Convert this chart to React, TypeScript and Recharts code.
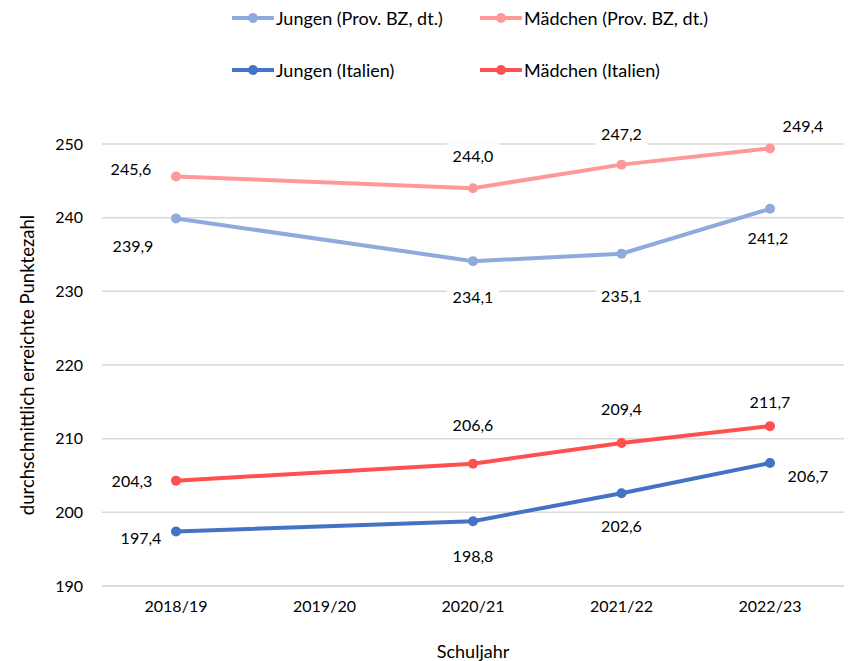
import React from 'react';
import { LineChart, Line, XAxis, YAxis, CartesianGrid, Label, LabelList } from 'recharts';

const years = ['2018/19', '2019/20', '2020/21', '2021/22', '2022/23'];
const jungenBZ = [239.9, null, 234.1, 235.1, 241.2];
const maedchenBZ = [245.6, null, 244.0, 247.2, 249.4];
const jungenIT = [197.4, null, 198.8, 202.6, 206.7];
const maedchenIT = [204.3, null, 206.6, 209.4, 211.7];
const yTicks = [190, 200, 210, 220, 230, 240, 250];

const seriesNames = ['Jungen (Prov. BZ, dt.)', 'Mädchen (Prov. BZ, dt.)', 'Jungen (Italien)', 'Mädchen (Italien)'];

const data = years.map((y, i) => ({
  year: y,
  jBZ: jungenBZ[i],
  mBZ: maedchenBZ[i],
  jIT: jungenIT[i],
  mIT: maedchenIT[i],
}));

const FONT = 'Lato, "Open Sans", sans-serif';
const C_JBZ = '#8FAADC';
const C_MBZ = '#FF9999';
const C_JIT = '#4472C4';
const C_MIT = '#FF5050';

// label offsets relative to each point (dx, dy)
const offJBZ = [[-43, 27], [0, 0], [0, 35], [0, 42], [-2, 29]];
const offMBZ = [[-45, -8], [0, 0], [0, -33], [0, -31], [33, -23]];
const offJIT = [[-35, 6], [0, 0], [0, 34], [0, 32], [38, 13]];
const offMIT = [[-44, 0], [0, 0], [0, -39], [0, -35], [0, -25]];

const fmt = (v: number) => v.toFixed(1).replace('.', ',');

const makeLabel = (offs: number[][]) => (props: any) => {
  const { x, y, value, index } = props;
  if (value == null || x == null || y == null) return null;
  const [dx, dy] = offs[index] || [0, 0];
  const cx = x + dx;
  const cy = y + dy;
  const w = 52;
  const h = 24;
  return (
    <g>
      <rect x={cx - w / 2} y={cy - h / 2} width={w} height={h} fill="#ffffff" />
      <text x={cx} y={cy} textAnchor="middle" dominantBaseline="central" fontFamily={FONT} fontSize={16} fill="#000">
        {fmt(Number(value))}
      </text>
    </g>
  );
};

const LegendIcon = ({ color }: { color: string }) => (
  <svg width={42} height={12} style={{ display: 'block' }}>
    <line x1={1} y1={6} x2={41} y2={6} stroke={color} strokeWidth={4} strokeLinecap="round" />
    <circle cx={21} cy={6} r={5} fill={color} />
  </svg>
);

const legendItems = [
  { name: seriesNames[0], color: C_JBZ, left: 232, top: 18 },
  { name: seriesNames[1], color: C_MBZ, left: 480, top: 18 },
  { name: seriesNames[2], color: C_JIT, left: 232, top: 70 },
  { name: seriesNames[3], color: C_MIT, left: 480, top: 70 },
];

const YTitle = (props: any) => {
  const vb = props.viewBox || {};
  const cx = 27;
  const cy = vb.y + vb.height / 2;
  return (
    <text x={cx} y={cy} transform={`rotate(-90 ${cx} ${cy})`} textAnchor="middle" dominantBaseline="central" fontFamily={FONT} fontSize={18.5} fill="#000">
      durchschnittlich erreichte Punktezahl
    </text>
  );
};

const XTitle = (props: any) => {
  const vb = props.viewBox || {};
  const cx = vb.x + vb.width / 2;
  const cy = 651;
  return (
    <text x={cx} y={cy} textAnchor="middle" dominantBaseline="central" fontFamily={FONT} fontSize={18} fill="#000">
      Schuljahr
    </text>
  );
};

export default function App() {
  return (
    <div style={{ position: 'absolute', left: 0, top: 0, width: 854, height: 661, background: '#fff' }}>
      <LineChart
        width={854}
        height={661}
        data={data}
        margin={{ top: 144, right: 10, bottom: 0, left: 42 }}
      >
        <CartesianGrid horizontal vertical={false} stroke="#D9D9D9" strokeWidth={1.5} />
        <XAxis
          dataKey="year"
          padding={{ left: 74, right: 74 }}
          axisLine={{ stroke: '#D9D9D9', strokeWidth: 1.5 }}
          tickLine={false}
          height={75}
          tickMargin={9}
          tick={{ fontFamily: FONT, fontSize: 16, fill: '#000' }}
          interval={0}
        >
          <Label content={<XTitle />} />
        </XAxis>
        <YAxis
          domain={[190, 250]}
          ticks={yTicks}
          width={60}
          axisLine={false}
          tickLine={false}
          tickMargin={13}
          tick={{ fontFamily: FONT, fontSize: 16, fill: '#000' }}
        >
          <Label content={<YTitle />} />
        </YAxis>
        <Line dataKey="mBZ" name={seriesNames[1]} stroke={C_MBZ} strokeWidth={4} connectNulls isAnimationActive={false}
          dot={{ r: 5, fill: C_MBZ, stroke: C_MBZ, strokeWidth: 0 }}>
          <LabelList dataKey="mBZ" content={makeLabel(offMBZ)} />
        </Line>
        <Line dataKey="jBZ" name={seriesNames[0]} stroke={C_JBZ} strokeWidth={4} connectNulls isAnimationActive={false}
          dot={{ r: 5, fill: C_JBZ, stroke: C_JBZ, strokeWidth: 0 }}>
          <LabelList dataKey="jBZ" content={makeLabel(offJBZ)} />
        </Line>
        <Line dataKey="mIT" name={seriesNames[3]} stroke={C_MIT} strokeWidth={4} connectNulls isAnimationActive={false}
          dot={{ r: 5, fill: C_MIT, stroke: C_MIT, strokeWidth: 0 }}>
          <LabelList dataKey="mIT" content={makeLabel(offMIT)} />
        </Line>
        <Line dataKey="jIT" name={seriesNames[2]} stroke={C_JIT} strokeWidth={4} connectNulls isAnimationActive={false}
          dot={{ r: 5, fill: C_JIT, stroke: C_JIT, strokeWidth: 0 }}>
          <LabelList dataKey="jIT" content={makeLabel(offJIT)} />
        </Line>
      </LineChart>
      {legendItems.map((it) => (
        <div key={it.name} style={{ position: 'absolute', left: it.left, top: it.top - 12, height: 24, display: 'flex', alignItems: 'center', fontFamily: FONT, fontSize: 18, color: '#000', whiteSpace: 'nowrap' }}>
          <LegendIcon color={it.color} />
          <span style={{ marginLeft: 2 }}>{it.name}</span>
        </div>
      ))}
    </div>
  );
}
